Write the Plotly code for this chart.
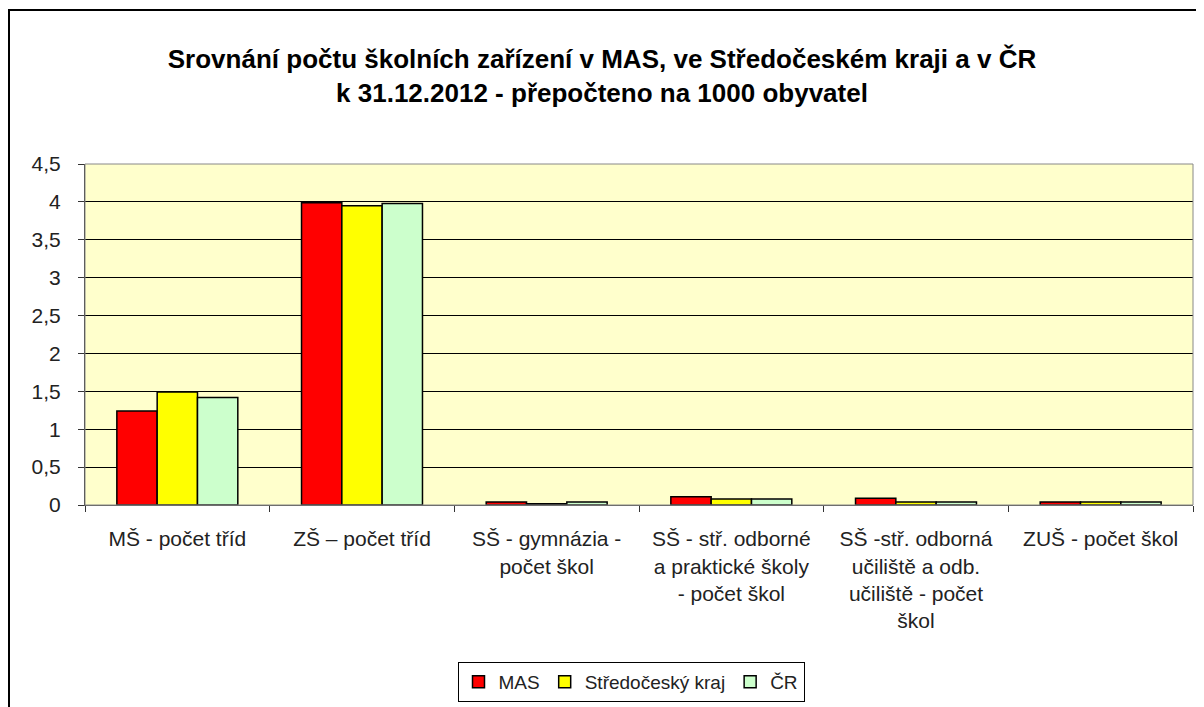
import plotly.graph_objects as go

categories = [
    "MŠ - počet tříd",
    "ZŠ – počet tříd",
    "SŠ - gymnázia -<br>počet škol",
    "SŠ - stř. odborné<br>a praktické školy<br>- počet škol",
    "SŠ -stř. odborná<br>učiliště a odb.<br>učiliště - počet<br>škol",
    "ZUŠ - počet škol",
]
series_names = ["MAS", "Středočeský kraj", "ČR"]
mas = [1.24, 3.99, 0.04, 0.11, 0.09, 0.04]
stredocesky = [1.49, 3.95, 0.015, 0.08, 0.04, 0.04]
cr = [1.42, 3.98, 0.04, 0.08, 0.04, 0.04]
colors = ["#FF0000", "#FFFF00", "#CCFFCC"]

fig = go.Figure()
for name, vals, col in zip(series_names, [mas, stredocesky, cr], colors):
    fig.add_trace(go.Bar(
        x=categories, y=vals, name=name,
        marker=dict(color=col, line=dict(color="#000000", width=1.5)),
    ))

# page body has an 8px margin, so figure coords = screen coords - 8
OFF = 8
W, H = 1204 - OFF, 707 - OFF
L, T = 85 - OFF, 164 - OFF
R = W - (1193 - OFF)
B = H - (505 - OFF)
pw, ph = W - L - R, H - T - B

FONT = "Liberation Sans, Arial, sans-serif"

fig.update_layout(
    width=W, height=H,
    margin=dict(l=L, r=R, t=T, b=B, autoexpand=False),
    paper_bgcolor="white",
    plot_bgcolor="#FFFFCC",
    separators=", ",
    barmode="group",
    bargap=0.345,
    bargroupgap=0,
    font=dict(family=FONT, size=21, color="#222222"),
    title=dict(
        text="Srovnání počtu školních zařízení v MAS, ve Středočeském kraji a v ČR<br>k 31.12.2012 - přepočteno na 1000 obyvatel",
        x=(602 - OFF) / W, xanchor="center", y=1 - 60 / H, yanchor="middle",
        font=dict(family=FONT, size=26, color="#000000", weight="bold"),
    ),
    showlegend=True,
    legend=dict(
        orientation="h",
        x=(631 - OFF - L) / pw, xanchor="center",
        y=-((662 - OFF) - (T + ph)) / ph, yanchor="top",
        bordercolor="#000000", borderwidth=1,
        bgcolor="white",
        font=dict(size=19, color="#222222"),
        itemwidth=30,
        traceorder="normal",
        tracegroupgap=0,
    ),
    xaxis=dict(
        showgrid=False,
        showline=True, linecolor="#555555", linewidth=1,
        ticks="outside", tickson="boundaries", ticklen=6, tickcolor="#333333",
        tickangle=0,
        tickfont=dict(size=21),
        ticklabelstandoff=15,
        automargin=False,
    ),
    yaxis=dict(
        range=[0, 4.5], dtick=0.5,
        showgrid=True, gridcolor="#000000", gridwidth=1,
        showline=True, linecolor="#333333", linewidth=1,
        ticks="outside", ticklen=6, tickcolor="#333333",
        zeroline=False,
        tickfont=dict(size=21),
        ticklabelstandoff=13,
        automargin=False,
    ),
    shapes=[
        dict(type="rect", xref="paper", yref="paper",
             x0=0, x1=1, y0=0, y1=1,
             line=dict(color="#888888", width=1), fillcolor="rgba(0,0,0,0)"),
        dict(type="rect", xref="paper", yref="paper",
             x0=(1 - L) / pw, x1=(W + 30 - L) / pw,
             y0=-(H + 30 - (T + ph)) / ph, y1=((T + ph) - 2) / ph,
             line=dict(color="#000000", width=2), fillcolor="rgba(0,0,0,0)"),
    ],
)

fig.write_html("out.html")
